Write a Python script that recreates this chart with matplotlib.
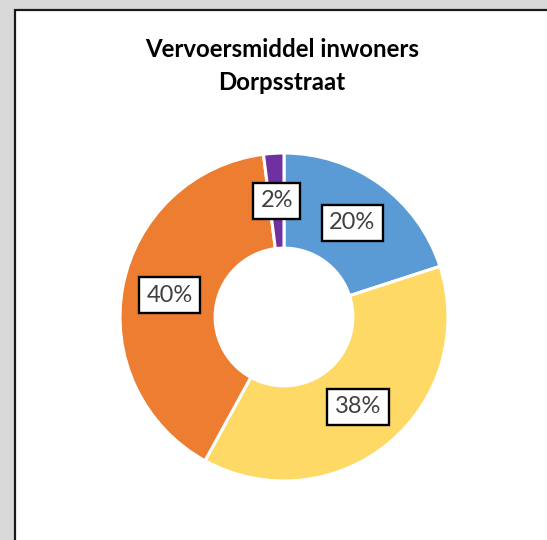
import numpy as np
import matplotlib.pyplot as plt
from matplotlib.patches import Rectangle

# Gegevens
categorieen = ["Fiets", "Auto", "Lopen", "Overig"]
percentages = [20, 38, 40, 2]
kleuren = ["#5B9BD5", "#FFD966", "#ED7D31", "#7030A0"]
titel = "Vervoersmiddel inwoners\nDorpsstraat"

W, H = 547, 540
fig = plt.figure(figsize=(W / 100, H / 100), dpi=100, facecolor="#d9d9d9")

# Grafiekgebied (wit met rand links en boven)
kader = Rectangle((15 / W, -0.1), 1.2, (H - 10) / H + 0.1, transform=fig.transFigure,
                  facecolor="white", edgecolor="#1a1a1a", linewidth=1.6, zorder=-5)
fig.patches.append(kader)

fig.text(282 / W, 1 - 66 / H, titel, ha="center", va="center", fontsize=17.3,
         fontweight="bold", family="Lato", linespacing=1.5)

# Donut
ax = fig.add_axes([120 / W, 59 / H, 328 / W, 328 / H])
ax.set_aspect("equal")
ax.patch.set_alpha(0)
binnen = 0.42
wedges, _ = ax.pie(percentages, colors=kleuren, startangle=90, counterclock=False,
                   radius=1, wedgeprops=dict(width=1 - binnen, edgecolor="white", linewidth=2.2))
ax.set_xlim(-1, 1)
ax.set_ylim(-1, 1)
ax.axis("off")

r = (1 + binnen) / 2
for w, p in zip(wedges, percentages):
    hoek = np.deg2rad((w.theta1 + w.theta2) / 2)
    ax.text(r * np.cos(hoek), r * np.sin(hoek), f"{p}%", ha="center", va="center",
            fontsize=17, color="#404040", family="Lato",
            bbox=dict(boxstyle="square,pad=0.32", facecolor="white", edgecolor="black", linewidth=1.7))

fig.savefig("out.png", dpi=100, facecolor=fig.get_facecolor())
